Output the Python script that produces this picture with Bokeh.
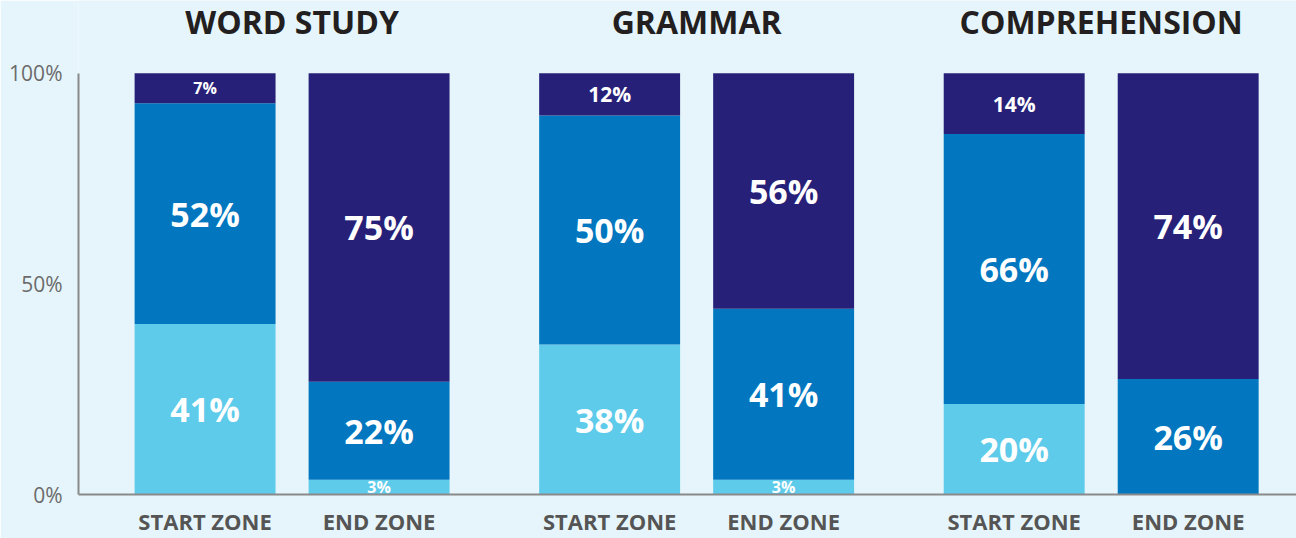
from bokeh.plotting import figure
from bokeh.models import ColumnDataSource, Range1d, FixedTicker, PrintfTickFormatter
from bokeh.core.properties import value
from bokeh.embed import file_html
from bokeh.resources import INLINE

# ---------------- data ----------------
groups = ["WORD STUDY", "GRAMMAR", "COMPREHENSION"]
zones = ["START ZONE", "END ZONE"]
series = ["light", "mid", "dark"]

# bar heights (percent), one per bar (group x zone)
light = [40.5, 3.5, 35.6, 3.5, 21.5, 0.0]
mid = [52.4, 23.3, 54.4, 40.6, 64.1, 27.4]
dark = [7.1, 73.2, 10.0, 55.9, 14.4, 72.6]

# printed labels on the segments
light_labels = ["41%", "3%", "38%", "3%", "20%", ""]
mid_labels = ["52%", "22%", "50%", "41%", "66%", "26%"]
dark_labels = ["7%", "75%", "12%", "56%", "14%", "74%"]

y_ticks = [0, 50, 100]

# ---------------- layout / style ----------------
COLORS = ["#5ECBEA", "#0277C0", "#262079"]
BG = "#E6F5FB"
FONT = "Open Sans"
SUB = 40      # distance between bars within a group
GAP = 93      # distance between groups
BAR_W = 32.4

xs = []
xlab = {}
for gi, g in enumerate(groups):
    for si, z in enumerate(zones):
        x = gi * GAP + si * SUB
        xs.append(x)
        xlab[x] = z
group_centers = [gi * GAP + SUB / 2 for gi in range(len(groups))]

src = ColumnDataSource(dict(x=xs, light=light, mid=mid, dark=dark))

p = figure(width=1296, height=538, output_backend="svg", toolbar_location=None,
           x_range=Range1d(-29.1, 250.9), y_range=Range1d(0, 117.3),
           min_border_left=78, min_border_right=0, min_border_top=0,
           min_border_bottom=43)
p.background_fill_color = BG
p.border_fill_color = BG
p.outline_line_color = None
p.grid.visible = False

p.vbar_stack(series, x="x", width=BAR_W, color=COLORS, line_color=None,
             source=src)

# segment labels
lx, ly, lt, ls = [], [], [], []
for i, x in enumerate(xs):
    base = 0.0
    for vals, labs in [(light, light_labels), (mid, mid_labels), (dark, dark_labels)]:
        v = vals[i]
        if labs[i]:
            lx.append(x)
            ly.append(base + v / 2)
            lt.append(labs[i])
            ls.append("34px" if v >= 20 else ("21px" if v >= 9 else "16px"))
        base += v
lsrc = ColumnDataSource(dict(x=lx, y=ly, t=lt, s=ls))
p.text(x="x", y="y", text="t", source=lsrc, text_font=value(FONT),
       text_font_style="bold", text_font_size="s", text_color="white",
       text_align="center", text_baseline="middle")

# group titles
tsrc = ColumnDataSource(dict(x=group_centers, y=[112.2] * 3, t=groups))
p.text(x="x", y="y", text="t", source=tsrc, text_font=value(FONT),
       text_font_style="bold", text_font_size="32px", text_color="#231F20",
       text_align="center", text_baseline="middle")

# axes
ya = p.yaxis[0]
ya.ticker = FixedTicker(ticks=y_ticks)
ya.formatter = PrintfTickFormatter(format="%d%%")
ya.bounds = (0, 100)
ya.axis_line_color = "#8A8A8A"
ya.axis_line_width = 2
ya.major_tick_line_color = None
ya.minor_tick_line_color = None
ya.major_label_text_font = FONT
ya.major_label_text_font_size = "21px"
ya.major_label_text_color = "#6B6B6B"
ya.major_label_standoff = 10

xa = p.xaxis[0]
xa.ticker = FixedTicker(ticks=xs)
xa.major_label_overrides = xlab
xa.axis_line_color = "#8A8A8A"
xa.axis_line_width = 2
xa.major_tick_line_color = None
xa.minor_tick_line_color = None
xa.major_label_text_font = FONT
xa.major_label_text_font_style = "bold"
xa.major_label_text_font_size = "22px"
xa.major_label_text_color = "#555555"
xa.major_label_standoff = 5

open("out.html", "w").write(file_html(p, INLINE))
